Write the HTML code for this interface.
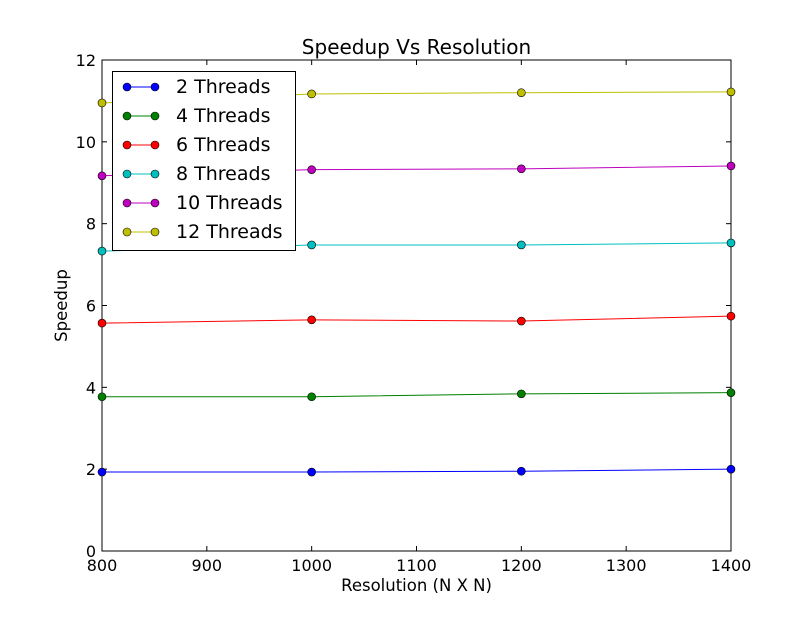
<!DOCTYPE html>
<html><head><meta charset="utf-8"><style>
body{margin:0;background:#fff;}
svg text{font-family:"DejaVu Sans","Liberation Sans",sans-serif;}
</style></head><body>
<svg id="chart" width="812" height="612" xmlns="http://www.w3.org/2000/svg">
<rect x="0" y="0" width="812" height="612" fill="#fff"/>
<text x="416.5" y="54" font-size="20" text-anchor="middle">Speedup Vs Resolution</text>
<g id="axes"></g><g id="series"></g><g id="legend"></g>
<text x="416.5" y="591" font-size="16.5" text-anchor="middle">Resolution (N X N)</text>
<text x="67" y="305.5" font-size="16.5" text-anchor="middle" transform="rotate(-90 67 305.5)">Speedup</text>
</svg>
<script>
const categories=[800,1000,1200,1400];
const seriesNames=["2 Threads","4 Threads","6 Threads","8 Threads","10 Threads","12 Threads"];
const seriesColors=["#0000ff","#008000","#ff0000","#00bfbf","#bf00bf","#bfbf00"];
const s2=[1.93,1.93,1.95,2.0];
const s4=[3.77,3.77,3.84,3.87];
const s6=[5.57,5.65,5.62,5.74];
const s8=[7.33,7.48,7.48,7.53];
const s10=[9.17,9.32,9.34,9.41];
const s12=[10.95,11.17,11.2,11.22];
const xTicks=[800,900,1000,1100,1200,1300,1400];
const yTicks=[0,2,4,6,8,10,12];
const allSeries=[s2,s4,s6,s8,s10,s12];
const L=102,R=731,T=60,B=551;
const xs=v=>L+(v-800)/600*(R-L);
const ys=v=>B-v/12*(B-T);
const NS="http://www.w3.org/2000/svg";
function mk(tag,attrs,parent){const e=document.createElementNS(NS,tag);for(const k in attrs)e.setAttribute(k,attrs[k]);parent.appendChild(e);return e;}
const ax=document.getElementById('axes');
const frame=mk('rect',{x:L,y:T,width:R-L,height:B-T,fill:'none',stroke:'#000','stroke-width':1},ax);


xTicks.forEach(t=>{const x=xs(t);
 mk('line',{x1:x,x2:x,y1:B,y2:B-5,stroke:'#000'},ax);mk('line',{x1:x,x2:x,y1:T,y2:T+5,stroke:'#000'},ax);
 const tx=mk('text',{x:x,y:B+20,'font-size':16,'text-anchor':'middle'},ax);tx.textContent=t;
 
 });
yTicks.forEach(t=>{const y=ys(t);
 mk('line',{x1:L,x2:L+5,y1:y,y2:y,stroke:'#000'},ax);mk('line',{x1:R,x2:R-5,y1:y,y2:y,stroke:'#000'},ax);
 const tx=mk('text',{x:L-6,y:y+6,'font-size':16,'text-anchor':'end'},ax);tx.textContent=t;
 
 });
const sg=document.getElementById('series');
allSeries.forEach((d,i)=>{
 const g=mk('g',{},sg);
 
 
 mk('polyline',{points:d.map((v,j)=>xs(categories[j])+','+ys(v)).join(' '),fill:'none',stroke:seriesColors[i],'stroke-width':1},g);
 d.forEach((v,j)=>{const c=mk('circle',{cx:xs(categories[j]),cy:ys(v),r:4,fill:seriesColors[i],stroke:'#000','stroke-width':0.6},g);
  
  });
});
const lg=document.getElementById('legend');
const box=mk('rect',{x:112.5,y:71.5,width:183,height:179,fill:'#fff',stroke:'#000'},lg);


seriesNames.forEach((n,i)=>{const y=87+i*29;
 const g=mk('g',{},lg);
 
 
 mk('line',{x1:127,x2:155,y1:y,y2:y,stroke:seriesColors[i]},g);
 mk('circle',{cx:127,cy:y,r:4,fill:seriesColors[i],stroke:'#000','stroke-width':0.6},g);
 mk('circle',{cx:155,cy:y,r:4,fill:seriesColors[i],stroke:'#000','stroke-width':0.6},g);
 const t=mk('text',{x:176,y:y+6,'font-size':19},g);t.textContent=n;});
</script>
</body></html>
